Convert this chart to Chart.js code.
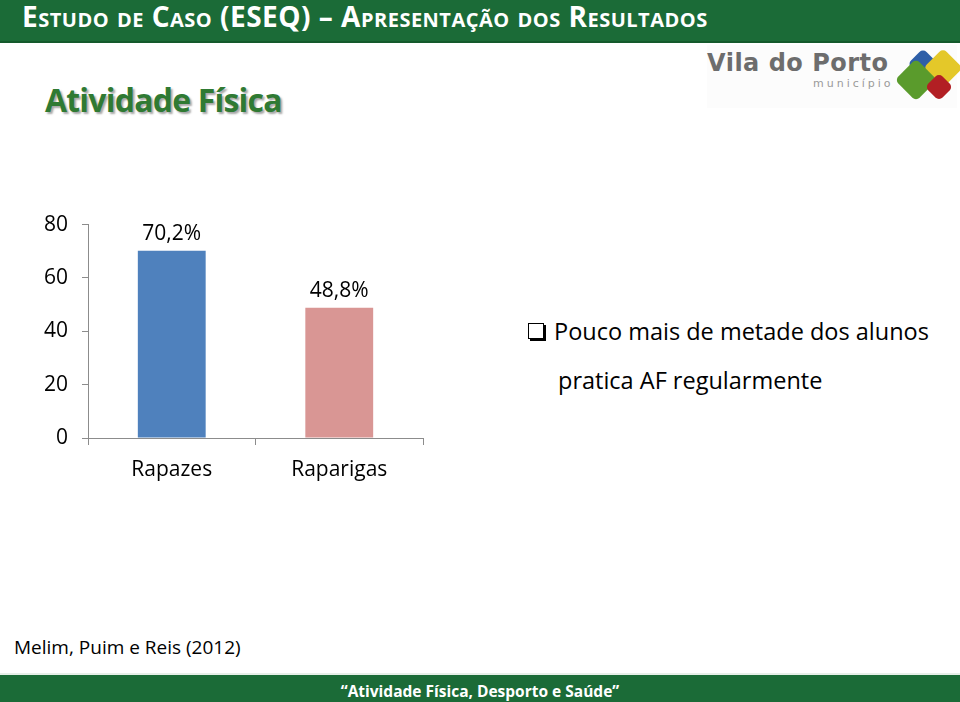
<!DOCTYPE html>
<html>
<head>
<meta charset="utf-8">
<script src="https://cdn.jsdelivr.net/npm/chart.js@4"></script>
<style>
  html, body { margin: 0; padding: 0; }
  body { width: 960px; height: 702px; position: relative; background: #fff; overflow: hidden; font-family: "Open Sans", "Lato", sans-serif; }
  .topbar { position: absolute; left: 0; top: 0; width: 960px; height: 41px; background: #1b6b37; border-bottom: 2px solid #145a2c; }
  .topbar span { position: absolute; left: 22px; top: 0; line-height: 32px; color: #fff; font-weight: bold; font-size: 28px; font-variant: small-caps; letter-spacing: 0.5px; white-space: nowrap; }
  .heading { position: absolute; left: 45px; top: 78px; font-size: 32px; font-weight: bold; color: #2f7a33; text-shadow: 2px 2px 2px rgba(0,0,0,0.35); letter-spacing: -0.8px; white-space: nowrap; }
  .logo { position: absolute; left: 707px; top: 45px; width: 250px; height: 63px; background: #fcfcfc; }
  .logo .name { position: absolute; left: 0px; top: 4px; font-family: "DejaVu Sans", sans-serif; font-weight: bold; font-size: 24px; color: #6d6d6d; letter-spacing: 0.5px; white-space: nowrap; }
  .logo .sub { position: absolute; left: 106px; top: 32px; font-family: "DejaVu Sans", sans-serif; font-size: 11px; color: #9a9a9a; letter-spacing: 3px; white-space: nowrap; }
  .logo .d { position: absolute; transform: rotate(45deg); border-radius: 5px; }
  #chartBox { position: absolute; left: 30px; top: 198px; width: 400px; height: 285px; }
  .bullet { position: absolute; left: 528px; top: 307px; font-size: 23.5px; color: #000; white-space: nowrap; line-height: 49px; }
  .bullet .box { display: inline-block; width: 14px; height: 14px; border: 1.5px solid #000; box-shadow: 2px 2px 0 #000; margin-right: 10px; vertical-align: 1px; }
  .cite { position: absolute; left: 14px; top: 634px; font-size: 19px; color: #000; white-space: nowrap; }
  .botbar { position: absolute; left: 0; top: 673px; width: 960px; height: 29px; background: #1b6b37; border-top: 2px solid #e6efe8; }
  .botbar span { position: absolute; left: 0; width: 960px; top: 5px; text-align: center; color: #fff; font-weight: bold; font-size: 15.5px; white-space: nowrap; }
</style>
</head>
<body>
<div class="topbar"><span>Estudo de Caso (ESEQ) – Apresentação dos Resultados</span></div>
<div class="heading">Atividade Física</div>
<div class="logo">
  <div class="name">Vila do Porto</div>
  <div class="sub">município</div>
  <div class="d" style="left:205px; top:8px; width:22px; height:22px; background:#2e5fa8;"></div>
  <div class="d" style="left:222px; top:9px; width:28px; height:28px; background:#e4c829;"></div>
  <div class="d" style="left:194px; top:20px; width:30px; height:30px; background:#5a9b2c;"></div>
  <div class="d" style="left:222px; top:32px; width:20px; height:20px; background:#b21f24;"></div>
</div>
<div id="chartBox"><canvas id="c"></canvas></div>
<div class="bullet">
  <div><span class="box"></span>Pouco mais de metade dos alunos</div>
  <div style="padding-left:30px;">pratica AF regularmente</div>
</div>
<div class="cite">Melim, Puim e Reis (2012)</div>
<div class="botbar"><span>“Atividade Física, Desporto e Saúde”</span></div>

<script>
const categories = ["Rapazes", "Raparigas"];
const values = [70.2, 48.8];
const valueLabels = ["70,2%", "48,8%"];
const barColors = ["#4f81bd", "#d99694"];
const yTicks = [0, 20, 40, 60, 80];

const valueLabelPlugin = {
  id: 'valueLabels',
  afterDatasetsDraw(chart) {
    const ctx = chart.ctx;
    const meta = chart.getDatasetMeta(0);
    ctx.save();
    ctx.font = '21px "Open Sans", sans-serif';
    ctx.fillStyle = '#000';
    ctx.textAlign = 'center';
    ctx.textBaseline = 'bottom';
    meta.data.forEach((bar, i) => {
      ctx.fillText(valueLabels[i], bar.x, bar.y - 6);
    });
    ctx.restore();
  }
};

new Chart(document.getElementById('c'), {
  type: 'bar',
  data: {
    labels: categories,
    datasets: [{
      data: values,
      backgroundColor: barColors,
      borderWidth: 0,
      categoryPercentage: 0.81,
      barPercentage: 0.5
    }]
  },
  options: {
    responsive: true,
    maintainAspectRatio: false,
    animation: false,
    layout: { padding: { top: 4, right: 7, left: 0, bottom: 0 } },
    plugins: { legend: { display: false }, tooltip: { enabled: false } },
    scales: {
      x: {
        grid: { display: true, drawOnChartArea: false, offset: true, tickLength: 7, color: '#8c8c8c' },
        border: { color: '#8c8c8c' },
        ticks: { color: '#000', font: { size: 21, family: '"Open Sans", sans-serif' }, padding: 12 },
        afterFit(scale) { scale.height = 45; }
      },
      y: {
        min: 0, max: 80,
        afterBuildTicks(scale) { scale.ticks = yTicks.map(v => ({ value: v })); },
        grid: { display: true, drawOnChartArea: false, tickLength: 6, color: '#8c8c8c' },
        border: { color: '#8c8c8c' },
        ticks: { color: '#000', font: { size: 21, family: '"Open Sans", sans-serif' }, padding: 14 },
        afterFit(scale) { scale.width = 58; }
      }
    }
  },
  plugins: [valueLabelPlugin]
});
</script>
</body>
</html>
